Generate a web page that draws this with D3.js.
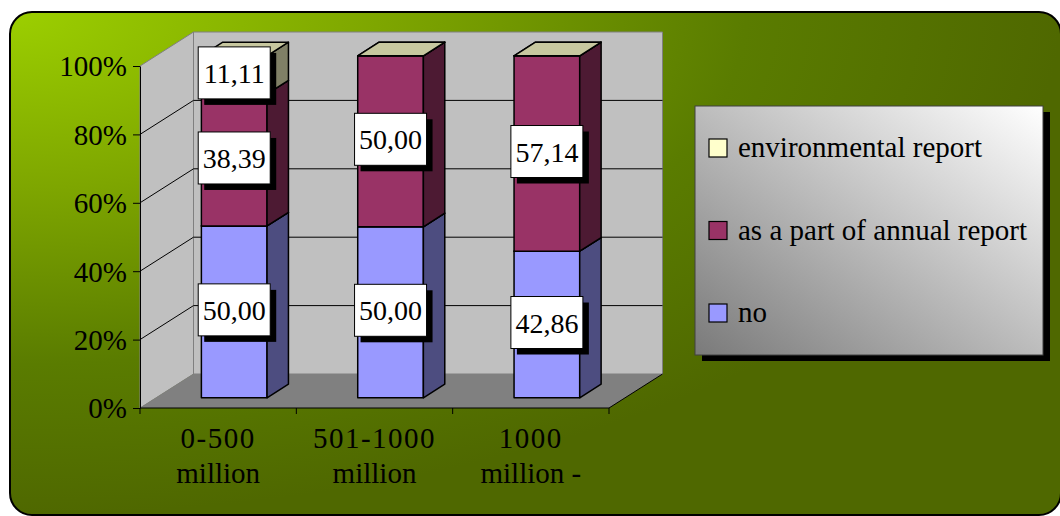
<!DOCTYPE html>
<html>
<head>
<meta charset="utf-8">
<script src="https://cdn.jsdelivr.net/npm/d3@7"></script>
<style>
  html, body { margin: 0; padding: 0; background: #ffffff; }
  svg { display: block; }
  svg text { font-family: "Liberation Serif", "Times New Roman", serif; fill: #000; }
</style>
</head>
<body>
<svg id="chart" width="1060" height="516"></svg>
<script>
// ---- data ----
const categories = ["0-500 million", "501-1000 million", "1000 million -"];
const seriesNames = ["no", "as a part of annual report", "environmental report"];
const seriesColors = ["#9999ff", "#993366", "#ffffcc"];
const noValues = [50.00, 50.00, 42.86];
const annualValues = [38.39, 50.00, 57.14];
const envValues = [11.11, 0, 0];
const yTickValues = [0, 0.2, 0.4, 0.6, 0.8, 1];

const rows = categories.map((c, i) => ({
  cat: c,
  "no": noValues[i],
  "as a part of annual report": annualValues[i],
  "environmental report": envValues[i]
}));

const svg = d3.select("#chart");
const FONT = "'Liberation Serif', 'Times New Roman', serif";

// ---- layout ----
const plot = { left: 140, right: 609, top: 66, bottom: 408 };
const depth = { dx: 53.5, dy: -34 };
const barZ0 = 0.3, barZ1 = 0.7;

const defs = svg.append("defs");
const bg = defs.append("radialGradient").attr("id", "bgGrad")
  .attr("cx", 0).attr("cy", 0).attr("r", 1).attr("fx", 0).attr("fy", 0);
bg.append("stop").attr("offset", "0%").attr("stop-color", "#9ccf00");
bg.append("stop").attr("offset", "35%").attr("stop-color", "#7ea600");
bg.append("stop").attr("offset", "70%").attr("stop-color", "#5a7c00");
bg.append("stop").attr("offset", "100%").attr("stop-color", "#4f6800");

const lg = defs.append("linearGradient").attr("id", "legGrad")
  .attr("x1", 0).attr("y1", 1).attr("x2", 1).attr("y2", 0);
lg.append("stop").attr("offset", "0%").attr("stop-color", "#7a7a7a");
lg.append("stop").attr("offset", "100%").attr("stop-color", "#ffffff");

// background frame
svg.append("rect")
  .attr("x", 10).attr("y", 12).attr("width", 1051).attr("height", 503)
  .attr("rx", 22).attr("ry", 22)
  .attr("fill", "url(#bgGrad)").attr("stroke", "#000").attr("stroke-width", 2);

// ---- scales ----
const x = d3.scaleBand().domain(categories).range([plot.left, plot.right])
  .paddingInner(0.58).paddingOuter(0.29);
const y = d3.scaleLinear().domain([0, 1]).range([plot.bottom, plot.top]);
const P = (px, py, z) => [px + z * depth.dx, py + z * depth.dy];
const poly = pts => "M" + pts.map(p => p.join(",")).join("L") + "Z";

// walls
const g = svg.append("g");
g.append("path").attr("d", poly([
  P(plot.left, y(0), 0), P(plot.left, y(1), 0), P(plot.left, y(1), 1), P(plot.left, y(0), 1)
])).attr("fill", "#c0c0c0").attr("stroke", "#808080").attr("stroke-width", 1);
g.append("path").attr("d", poly([
  P(plot.left, y(0), 1), P(plot.left, y(1), 1), P(plot.right, y(1), 1), P(plot.right, y(0), 1)
])).attr("fill", "#c0c0c0").attr("stroke", "#808080").attr("stroke-width", 1);
g.append("path").attr("d", poly([
  P(plot.left, y(0), 0), P(plot.right, y(0), 0), P(plot.right, y(0), 1), P(plot.left, y(0), 1)
])).attr("fill", "#808080").attr("stroke", "none");
g.append("line")
  .attr("x1", P(plot.right, y(0), 0)[0]).attr("y1", P(plot.right, y(0), 0)[1])
  .attr("x2", P(plot.right, y(0), 1)[0]).attr("y2", P(plot.right, y(0), 1)[1])
  .attr("stroke", "#000").attr("stroke-width", 1);

// gridlines
yTickValues.filter(v => v > 0 && v < 1).forEach(v => {
  const a = P(plot.left, y(v), 0), b = P(plot.left, y(v), 1), c = P(plot.right, y(v), 1);
  g.append("path").attr("d", `M${a}L${b}L${c}`)
    .attr("fill", "none").attr("stroke", "#000").attr("stroke-width", 1);
});

// ---- bars ----
const stack = d3.stack().keys(seriesNames).offset(d3.stackOffsetExpand);
const stacked = stack(rows);
const scaleCol = (c, k) => { const r = d3.rgb(c); return d3.rgb(r.r * k, r.g * k, r.b * k).formatHex(); };

const barsG = svg.append("g");
categories.forEach((cat, ci) => {
  const x0 = x(cat), x1 = x(cat) + x.bandwidth();
  stacked.forEach((s, si) => {
    const d = s[ci];
    const yb = y(d[0]), yt = y(d[1]);
    const col = seriesColors[si];
    const seg = barsG.append("g");
    seg.append("path").attr("d", poly([P(x0, yb, barZ0), P(x1, yb, barZ0), P(x1, yt, barZ0), P(x0, yt, barZ0)]))
      .attr("fill", col).attr("stroke", "#000").attr("stroke-width", 1.5).attr("stroke-linejoin", "round");
    seg.append("path").attr("d", poly([P(x1, yb, barZ0), P(x1, yb, barZ1), P(x1, yt, barZ1), P(x1, yt, barZ0)]))
      .attr("fill", scaleCol(col, 0.5)).attr("stroke", "#000").attr("stroke-width", 1.5).attr("stroke-linejoin", "round");
    seg.append("path").attr("d", poly([P(x0, yt, barZ0), P(x1, yt, barZ0), P(x1, yt, barZ1), P(x0, yt, barZ1)]))
      .attr("fill", scaleCol(col, 0.78)).attr("stroke", "#000").attr("stroke-width", 1.5).attr("stroke-linejoin", "round");
  });
});

// ---- value axis ----
const yAxisG = svg.append("g").attr("transform", `translate(${plot.left},0)`)
  .call(d3.axisLeft(y).tickValues(yTickValues).tickFormat(d3.format(".0%")).tickSize(7).tickSizeOuter(0).tickPadding(6));
yAxisG.attr("font-family", FONT).attr("font-size", 29);
yAxisG.select(".domain").attr("stroke", "#000");
yAxisG.selectAll(".tick line").attr("stroke", "#000");
yAxisG.selectAll("text").attr("font-family", FONT).attr("font-size", 29).attr("fill", "#000").attr("dy", "0.34em");

// ---- category axis ----
const xAxisG = svg.append("g");
xAxisG.append("line").attr("x1", plot.left).attr("x2", plot.right)
  .attr("y1", plot.bottom).attr("y2", plot.bottom).attr("stroke", "#000");
const boundaries = [plot.left].concat(categories.map(c => x(c) - x.step() * x.paddingInner() / 2 + x.step()));
boundaries.forEach(bx => {
  xAxisG.append("line").attr("x1", bx).attr("x2", bx).attr("y1", plot.bottom).attr("y2", plot.bottom + 6).attr("stroke", "#000");
});
categories.forEach(c => {
  const cx = x(c) + x.bandwidth() / 2;
  const parts = c.split(" ");
  const lines = [parts[0], parts.slice(1).join(" ")];
  const t = xAxisG.append("text").attr("text-anchor", "middle").attr("font-size", 29).attr("font-family", FONT);
  lines.forEach((ln, li) => {
    t.append("tspan").attr("x", cx).attr("y", plot.bottom + 40 + li * 35)
      .attr("letter-spacing", li === 0 ? 1.5 : 0).text(ln);
  });
});

// ---- data labels ----
const labelsG = svg.append("g");
const fmt = v => d3.format(".2f")(v).replace(".", ",");
const valueArrays = [noValues, annualValues, envValues];
categories.forEach((cat, ci) => {
  const cx = x(cat) + x.bandwidth() / 2 + barZ0 * depth.dx;
  stacked.forEach((s, si) => {
    const v = valueArrays[si][ci];
    if (!v) return;
    const d = s[ci];
    const cy = (y(d[0]) + y(d[1])) / 2 + barZ0 * depth.dy - 2;
    const lgG = labelsG.append("g");
    const bw = 72, bh = 52;
    lgG.append("rect").attr("x", cx - bw / 2 + 6).attr("y", cy - bh / 2 + 6).attr("width", bw).attr("height", bh).attr("fill", "#000");
    lgG.append("rect").attr("x", cx - bw / 2).attr("y", cy - bh / 2).attr("width", bw).attr("height", bh)
      .attr("fill", "#fff").attr("stroke", "#000").attr("stroke-width", 1);
    lgG.append("text").attr("x", cx).attr("y", cy + 10).attr("text-anchor", "middle")
      .attr("font-size", 28).attr("font-family", FONT).text(fmt(v));
  });
});

// ---- legend ----
const leg = { x: 695, y: 106, w: 348, h: 249 };
const legG = svg.append("g");
legG.append("rect").attr("x", leg.x + 7).attr("y", leg.y + 6).attr("width", leg.w).attr("height", leg.h).attr("fill", "#000");
legG.append("rect").attr("x", leg.x).attr("y", leg.y).attr("width", leg.w).attr("height", leg.h)
  .attr("fill", "url(#legGrad)").attr("stroke", "#404040").attr("stroke-width", 1);
const legendOrder = seriesNames.map((n, i) => i).reverse();
legendOrder.forEach((si, k) => {
  const cy = leg.y + 42 + k * 82.5;
  legG.append("rect").attr("x", leg.x + 14).attr("y", cy - 9).attr("width", 18).attr("height", 18)
    .attr("fill", seriesColors[si]).attr("stroke", "#000").attr("stroke-width", 1.2);
  legG.append("text").attr("x", leg.x + 43).attr("y", cy + 9).attr("font-size", 29).attr("font-family", FONT).text(seriesNames[si]);
});
</script>
</body>
</html>
